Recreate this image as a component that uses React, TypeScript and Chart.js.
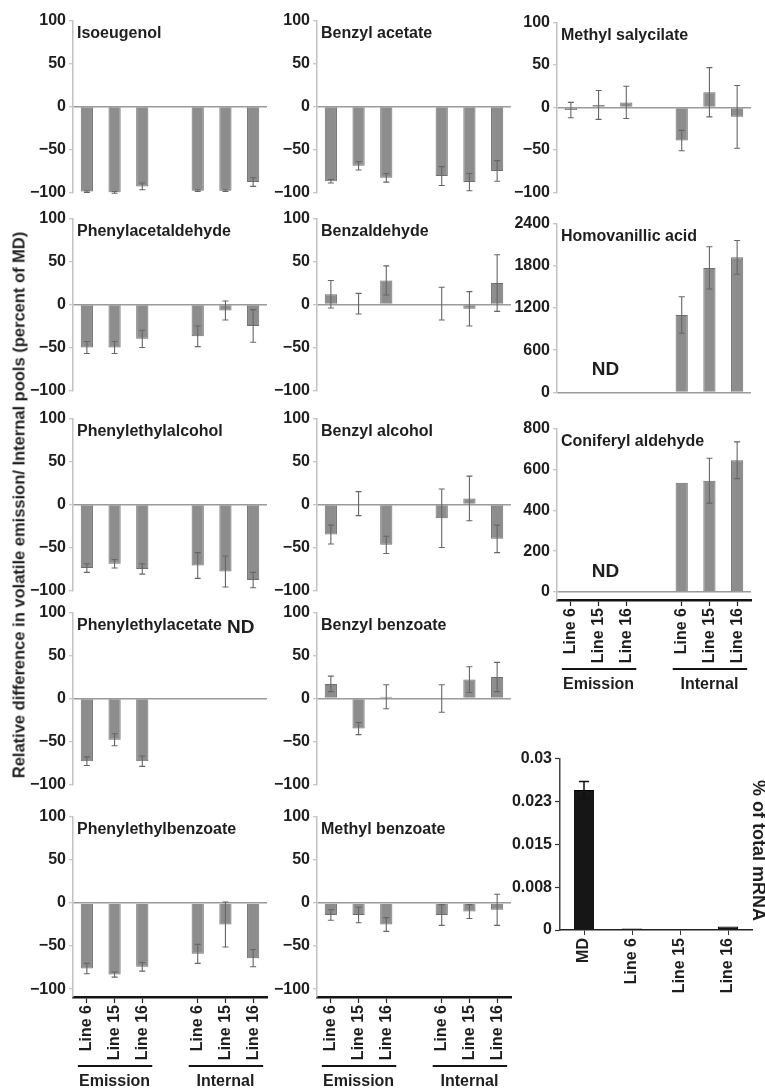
import React, { useEffect, useRef } from 'react';
import { Chart, registerables } from 'chart.js';

Chart.register(...registerables);

const FONT = '"Liberation Sans", Arial, Helvetica, sans-serif';
const INK = '#1e1e1e';
Chart.defaults.font.family = FONT;

// ---------- data ----------
const lineLabels = ['Line 6', 'Line 15', 'Line 16', '', 'Line 6', 'Line 15', 'Line 16'];
const groupNames = ['Emission', 'Internal'];
const groupRanges = [[0, 2], [4, 6]];
const percentTicks = [-100, -50, 0, 50, 100];
const homovanillicTicks = [0, 600, 1200, 1800, 2400];
const coniferylTicks = [0, 200, 400, 600, 800];

const isoeugenolValues = [-99, -100, -93, null, -98, -98, -88];
const isoeugenolErrors = [1, 1, 4, null, 1, 1, 5];
const benzylAcetateValues = [-87, -69, -83, null, -81, -88, -75];
const benzylAcetateErrors = [2, 5, 5, null, 11, 10, 12];
const methylSalycilateValues = [-3, 3, 6, null, -39, 18, -11];
const methylSalycilateErrors = [9, 17, 19, null, 12, 29, 37];
const phenylacetaldehydeValues = [-50, -50, -40, null, -37, -7, -25];
const phenylacetaldehydeErrors = [7, 7, 10, null, 12, 11, 19];
const benzaldehydeValues = [12, 1, 28, null, 1, -5, 25];
const benzaldehydeErrors = [16, 12, 17, null, 19, 20, 33];
const homovanillicValues = [null, null, null, null, 1100, 1770, 1920];
const homovanillicErrors = [null, null, null, null, 260, 300, 240];
const phenylethylalcoholValues = [-74, -69, -75, null, -71, -78, -88];
const phenylethylalcoholErrors = [5, 5, 6, null, 15, 18, 9];
const benzylAlcoholValues = [-35, 1, -47, null, -16, 7, -40];
const benzylAlcoholErrors = [11, 14, 10, null, 34, 26, 16];
const coniferylValues = [null, null, null, null, 535, 545, 645];
const coniferylErrors = [null, null, null, null, 0, 110, 90];
const phenylethylacetateValues = [-73, -48, -73, null, null, null, null];
const phenylethylacetateErrors = [5, 7, 6, null, null, null, null];
const benzylBenzoateValues = [17, -35, 2, null, 0, 22, 25];
const benzylBenzoateErrors = [9, 7, 14, null, 16, 15, 17];
const phenylethylbenzoateValues = [-76, -83, -74, null, -59, -25, -64];
const phenylethylbenzoateErrors = [6, 3, 5, null, 11, 26, 10];
const methylBenzoateValues = [-14, -14, -25, null, -14, -10, -8];
const methylBenzoateErrors = [6, 9, 8, null, 12, 8, 18];

const mrnaCategories = ['MD', 'Line 6', 'Line 15', 'Line 16'];
const mrnaValues = [0.0245, 0.00025, 0.00005, 0.0006];
const mrnaErrors = [0.0015, null, null, null];
const mrnaTicks = [0, 0.0075, 0.015, 0.0225, 0.03];
const mrnaTickLabels = ['0', '0.008', '0.015', '0.023', '0.03'];

const yAxisLabel = 'Relative difference in volatile emission/ Internal pools (percent of MD)';
const mrnaTitle = '% of total mRNA';
const ndText = 'ND';

function fmt(v: number) {
  return v < 0 ? '\u2212' + Math.abs(v) : String(v);
}

// ---------- layout ----------
type PanelSpec = {
  title: string;
  values: (number | null)[];
  errors: (number | null)[];
  ticks: number[];
  min: number;
  max: number;
  axisX: number;
  top: number;
  height: number;
  showX?: boolean;
  nd?: { x: number; y: number };
};

const COLS = [73, 317, 557];
const ROWS = [20, 218, 418, 612, 816];
const H = 173;
const YW = 64, PT = 12, PB = 12, PR = 12, XH = 94, PW = 194;

const panels: PanelSpec[] = [
  { title: 'Isoeugenol', values: isoeugenolValues, errors: isoeugenolErrors, ticks: percentTicks, min: -100, max: 100, axisX: COLS[0], top: ROWS[0], height: H },
  { title: 'Benzyl acetate', values: benzylAcetateValues, errors: benzylAcetateErrors, ticks: percentTicks, min: -100, max: 100, axisX: COLS[1], top: ROWS[0], height: H },
  { title: 'Methyl salycilate', values: methylSalycilateValues, errors: methylSalycilateErrors, ticks: percentTicks, min: -100, max: 100, axisX: COLS[2], top: 22, height: 171 },
  { title: 'Phenylacetaldehyde', values: phenylacetaldehydeValues, errors: phenylacetaldehydeErrors, ticks: percentTicks, min: -100, max: 100, axisX: COLS[0], top: ROWS[1], height: H },
  { title: 'Benzaldehyde', values: benzaldehydeValues, errors: benzaldehydeErrors, ticks: percentTicks, min: -100, max: 100, axisX: COLS[1], top: ROWS[1], height: H },
  { title: 'Homovanillic acid', values: homovanillicValues, errors: homovanillicErrors, ticks: homovanillicTicks, min: 0, max: 2400, axisX: COLS[2], top: 223, height: 170, nd: { x: 1.25, y: 325 } },
  { title: 'Phenylethylalcohol', values: phenylethylalcoholValues, errors: phenylethylalcoholErrors, ticks: percentTicks, min: -100, max: 100, axisX: COLS[0], top: ROWS[2], height: H },
  { title: 'Benzyl alcohol', values: benzylAlcoholValues, errors: benzylAlcoholErrors, ticks: percentTicks, min: -100, max: 100, axisX: COLS[1], top: ROWS[2], height: H },
  { title: 'Coniferyl aldehyde', values: coniferylValues, errors: coniferylErrors, ticks: coniferylTicks, min: -39, max: 800, axisX: COLS[2], top: 428, height: 172, showX: true, nd: { x: 1.25, y: 100 } },
  { title: 'Phenylethylacetate', values: phenylethylacetateValues, errors: phenylethylacetateErrors, ticks: percentTicks, min: -100, max: 100, axisX: COLS[0], top: ROWS[3], height: H, nd: { x: 5.55, y: 82 } },
  { title: 'Benzyl benzoate', values: benzylBenzoateValues, errors: benzylBenzoateErrors, ticks: percentTicks, min: -100, max: 100, axisX: COLS[1], top: ROWS[3], height: H },
  { title: 'Phenylethylbenzoate', values: phenylethylbenzoateValues, errors: phenylethylbenzoateErrors, ticks: percentTicks, min: -109, max: 100, axisX: COLS[0], top: ROWS[4], height: 181, showX: true },
  { title: 'Methyl benzoate', values: methylBenzoateValues, errors: methylBenzoateErrors, ticks: percentTicks, min: -109, max: 100, axisX: COLS[1], top: ROWS[4], height: 181, showX: true },
];

function drawErrors(chart: any, values: (number | null)[], errors: (number | null)[], color: string, width: number, cap: number) {
  const { ctx, scales } = chart;
  const xs = scales.x, ys = scales.y;
  ctx.save();
  ctx.strokeStyle = color;
  ctx.lineWidth = width;
  values.forEach((v, i) => {
    const e = errors[i];
    if (v == null || e == null || e === 0) return;
    const x = xs.getPixelForValue(i);
    const y1 = ys.getPixelForValue(v + e);
    const y2 = ys.getPixelForValue(v - e);
    ctx.beginPath();
    ctx.moveTo(x, y1); ctx.lineTo(x, y2);
    ctx.moveTo(x - cap, y1); ctx.lineTo(x + cap, y1);
    ctx.moveTo(x - cap, y2); ctx.lineTo(x + cap, y2);
    ctx.stroke();
  });
  ctx.restore();
}

function Panel({ spec }: { spec: PanelSpec }) {
  const ref = useRef<HTMLCanvasElement>(null);
  useEffect(() => {
    const canvas = ref.current;
    if (!canvas) return;
    const overlay = {
      id: 'overlay',
      afterDatasetsDraw(chart: any) {
        drawErrors(chart, spec.values, spec.errors, '#666666', 1.1, 3);
      },
      afterDraw(chart: any) {
        const { ctx, chartArea, scales } = chart;
        ctx.save();
        ctx.fillStyle = INK;
        ctx.font = `bold 16px ${FONT}`;
        ctx.textBaseline = 'middle';
        ctx.textAlign = 'left';
        ctx.fillText(spec.title, chartArea.left + 4, chartArea.top + 13);
        if (spec.nd) {
          ctx.font = `bold 19px ${FONT}`;
          ctx.textAlign = 'center';
          ctx.fillText(ndText, scales.x.getPixelForValue(spec.nd.x), scales.y.getPixelForValue(spec.nd.y));
        }
        if (spec.showX) {
          ctx.strokeStyle = '#151515';
          ctx.lineWidth = 2;
          ctx.font = `bold 16px ${FONT}`;
          ctx.textAlign = 'center';
          groupRanges.forEach((r, gi) => {
            const a = scales.x.getPixelForValue(r[0]) - 9;
            const b = scales.x.getPixelForValue(r[1]) + 10;
            const ly = chartArea.bottom + 69;
            ctx.beginPath();
            ctx.moveTo(a, ly); ctx.lineTo(b, ly);
            ctx.stroke();
            ctx.fillText(groupNames[gi], (scales.x.getPixelForValue(r[0]) + scales.x.getPixelForValue(r[1])) / 2, chartArea.bottom + 85);
          });
        }
        ctx.restore();
      },
    };
    const xScale: any = spec.showX
      ? {
          afterFit: (s: any) => { s.height = XH; },
          ticks: { font: { size: 16, weight: 'bold', family: FONT }, color: INK, minRotation: 90, maxRotation: 90, autoSkip: false, padding: 2 },
          grid: {
            display: true, drawOnChartArea: false, offset: false, tickLength: 6, tickWidth: 1.2,
            tickColor: (c: any) => (c.index === 3 ? 'rgba(0,0,0,0)' : '#222'),
          },
          border: { display: true, color: '#151515', width: 2.5 },
        }
      : { display: false };
    const chart = new Chart(canvas, {
      type: 'bar',
      data: {
        labels: lineLabels,
        datasets: [{
          data: spec.values as any,
          backgroundColor: '#8d8d8d',
          borderColor: '#6e6e6e',
          borderWidth: 1,
          barPercentage: 0.44,
          categoryPercentage: 1,
        }],
      },
      options: {
        animation: false,
        responsive: true,
        maintainAspectRatio: false,
        layout: { padding: { top: PT, right: PR, bottom: spec.showX ? 0 : PB, left: 0 } },
        plugins: { legend: { display: false }, tooltip: { enabled: false } },
        scales: {
          x: xScale,
          y: {
            min: spec.min,
            max: spec.max,
            afterBuildTicks: (s: any) => { s.ticks = spec.ticks.map((v) => ({ value: v })); },
            afterFit: (s: any) => { s.width = YW; },
            ticks: {
              callback: (v: any) => fmt(Number(v)),
              font: { size: 16, weight: 'bold', family: FONT },
              color: INK,
              padding: 3,
            },
            grid: {
              color: (c: any) => (c.tick && c.tick.value === 0 ? '#9a9a9a' : 'rgba(0,0,0,0)'),
              lineWidth: 1.5,
              tickColor: '#b5b5b5',
              tickLength: 4,
              tickWidth: 1,
            },
            border: { display: true, color: '#c2c2c2', width: 1.5 },
          },
        },
      } as any,
      plugins: [overlay],
    });
    return () => chart.destroy();
  }, [spec]);

  const style: React.CSSProperties = {
    position: 'absolute',
    left: spec.axisX - YW,
    top: spec.top - PT,
    width: YW + PW + PR,
    height: PT + spec.height + (spec.showX ? XH : PB),
  };
  return (
    <div style={style}>
      <canvas ref={ref} />
    </div>
  );
}

const MW = 80, MPR = 13, MPW = 192, MXH = 70, MH = 172;
const mAxisX = 560, mTop = 758;

function MrnaPanel() {
  const ref = useRef<HTMLCanvasElement>(null);
  useEffect(() => {
    const canvas = ref.current;
    if (!canvas) return;
    const overlay = {
      id: 'overlayM',
      afterDatasetsDraw(chart: any) {
        drawErrors(chart, mrnaValues, mrnaErrors, '#111', 1.5, 5);
      },
      afterDraw(chart: any) {
        const { ctx, chartArea } = chart;
        ctx.save();
        ctx.fillStyle = INK;
        ctx.font = `bold 18px ${FONT}`;
        ctx.textAlign = 'center';
        ctx.textBaseline = 'middle';
        ctx.translate(chartArea.right + 6, chartArea.top + 92);
        ctx.rotate(Math.PI / 2);
        ctx.fillText(mrnaTitle, 0, 0);
        ctx.restore();
      },
    };
    const chart = new Chart(canvas, {
      type: 'bar',
      data: {
        labels: mrnaCategories,
        datasets: [{
          data: mrnaValues,
          backgroundColor: '#161616',
          borderColor: '#000',
          borderWidth: 1,
          barPercentage: 0.42,
          categoryPercentage: 1,
        }],
      },
      options: {
        animation: false,
        responsive: true,
        maintainAspectRatio: false,
        layout: { padding: { top: PT, right: MPR, bottom: 0, left: 0 } },
        plugins: { legend: { display: false }, tooltip: { enabled: false } },
        scales: {
          x: {
            afterFit: (s: any) => { s.height = MXH; },
            ticks: { font: { size: 16, weight: 'bold', family: FONT }, color: INK, minRotation: 90, maxRotation: 90, autoSkip: false, padding: 3 },
            grid: { display: true, drawOnChartArea: false, offset: false, tickLength: 5, tickColor: '#333', tickWidth: 1 },
            border: { display: true, color: '#222', width: 1.5 },
          },
          y: {
            min: 0,
            max: 0.03,
            afterBuildTicks: (s: any) => { s.ticks = mrnaTicks.map((v) => ({ value: v })); },
            afterFit: (s: any) => { s.width = MW; },
            ticks: {
              callback: (_v: any, i: number) => mrnaTickLabels[i],
              font: { size: 16, weight: 'bold', family: FONT },
              color: INK,
              padding: 3,
            },
            grid: { drawOnChartArea: false, tickColor: '#333', tickLength: 5, tickWidth: 1.2 },
            border: { display: true, color: '#444', width: 1.5 },
          },
        },
      } as any,
      plugins: [overlay],
    });
    return () => chart.destroy();
  }, []);
  return (
    <div style={{ position: 'absolute', left: mAxisX - MW, top: mTop - PT, width: MW + MPW + MPR, height: PT + MH + MXH }}>
      <canvas ref={ref} />
    </div>
  );
}

export default function App() {
  return (
    <div style={{ position: 'absolute', left: 0, top: 0, width: 765, height: 1090, overflow: 'hidden', background: '#fff' }}>
      {panels.map((p) => (
        <Panel key={p.title} spec={p} />
      ))}
      <MrnaPanel />
      <div
        style={{
          position: 'absolute',
          left: 19,
          top: 505,
          transform: 'translate(-50%, -50%) rotate(-90deg)',
          whiteSpace: 'nowrap',
          font: `bold 16.5px ${FONT}`,
          color: INK,
        }}
      >
        {yAxisLabel}
      </div>
    </div>
  );
}
